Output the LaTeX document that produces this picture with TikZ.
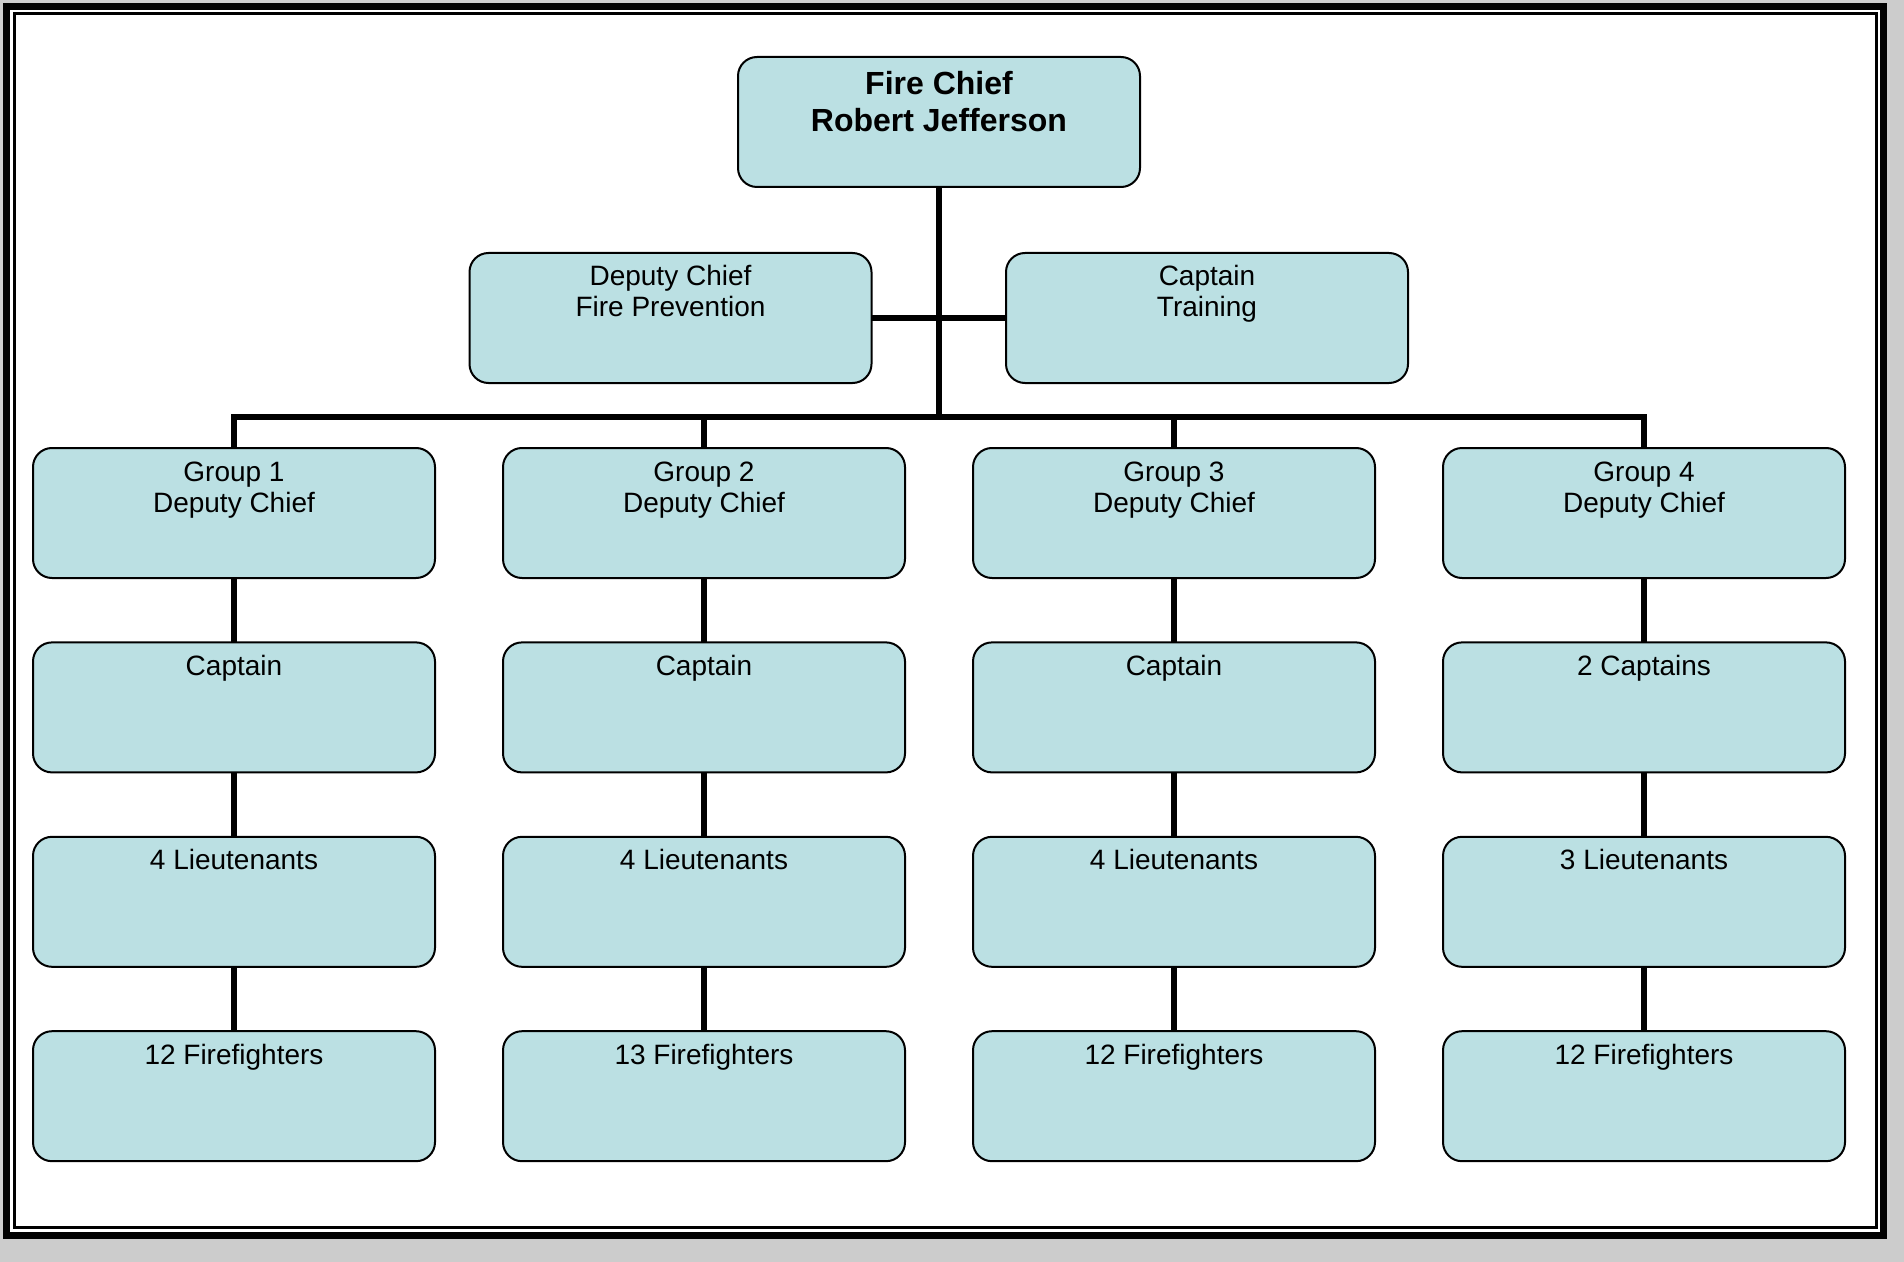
\documentclass[tikz,border=0pt]{standalone}
\usepackage{fontspec}
\setmainfont{Liberation Sans}
\usetikzlibrary{positioning}
\definecolor{unitblue}{RGB}{187,224,227}
\definecolor{pagegray}{RGB}{204,204,204}
\begin{document}
\begin{tikzpicture}[x=0.5pt, y=-0.5pt, node distance={32.2pt and 34pt},
	unit/.style = {draw, line width=1pt, rounded corners=9.5pt, fill=unitblue, inner sep=0pt, outer sep=0pt,
		execute at begin node={\begin{minipage}[c][65pt][t]{201pt}\centering\fontsize{14}{15.5}\selectfont\rule{0pt}{16.5pt}},
		execute at end node={\end{minipage}}},
	head/.style = {unit, execute at begin node={\bfseries\fontsize{16}{18.5}\selectfont\rule{0pt}{19pt}}},
	link/.style = {line width=3pt}]
		% page and frame
		\fill[pagegray] (0,0) rectangle (1904,1262);
		\fill[white] (3,3) rectangle (1887,1239);
		\draw[line width=3.5pt] (6.5,6.5) rectangle (1883.5,1235.5);
		\draw[line width=1.5pt] (14,14) rectangle (1876.5,1227.5);
		% top
		\node[head] (chief) at (939,122) {Fire Chief\\Robert Jefferson};
		\node[unit] (prev) [below=33pt of chief, xshift=-134.25pt] {Deputy Chief\\Fire Prevention};
		\node[unit] (train) [below=33pt of chief, xshift=134pt] {Captain\\Training};
		% groups
		\node[unit] (g2) [below=130.5pt of chief, xshift=-117.5pt] {Group 2\\Deputy Chief};
		\node[unit] (g3) [below=130.5pt of chief, xshift=117.5pt] {Group 3\\Deputy Chief};
		\node[unit] (g1) [left=of g2] {Group 1\\Deputy Chief};
		\node[unit] (g4) [right=of g3] {Group 4\\Deputy Chief};
		\node[unit] (c1) [below=of g1] {Captain};
		\node[unit] (c2) [below=of g2] {Captain};
		\node[unit] (c3) [below=of g3] {Captain};
		\node[unit] (c4) [below=of g4] {2 Captains};
		\node[unit] (l1) [below=of c1] {4 Lieutenants};
		\node[unit] (l2) [below=of c2] {4 Lieutenants};
		\node[unit] (l3) [below=of c3] {4 Lieutenants};
		\node[unit] (l4) [below=of c4] {3 Lieutenants};
		\node[unit] (f1) [below=of l1] {12 Firefighters};
		\node[unit] (f2) [below=of l2] {13 Firefighters};
		\node[unit] (f3) [below=of l3] {12 Firefighters};
		\node[unit] (f4) [below=of l4] {12 Firefighters};
		\coordinate[above=15.5pt of g1] (bus);
		% links
		\draw[link] (chief) -- (chief |- bus);
		\draw[link] (prev) -- (train);
		\draw[link] (g1) |- (g4 |- bus) -- (g4);
		\draw[link] (g2) -- (g2 |- bus);
		\draw[link] (g3) -- (g3 |- bus);
		\draw[link] (g1) -- (c1);
		\draw[link] (c1) -- (l1);
		\draw[link] (l1) -- (f1);
		\draw[link] (g2) -- (c2);
		\draw[link] (c2) -- (l2);
		\draw[link] (l2) -- (f2);
		\draw[link] (g3) -- (c3);
		\draw[link] (c3) -- (l3);
		\draw[link] (l3) -- (f3);
		\draw[link] (g4) -- (c4);
		\draw[link] (c4) -- (l4);
		\draw[link] (l4) -- (f4);
\end{tikzpicture}
\end{document}
